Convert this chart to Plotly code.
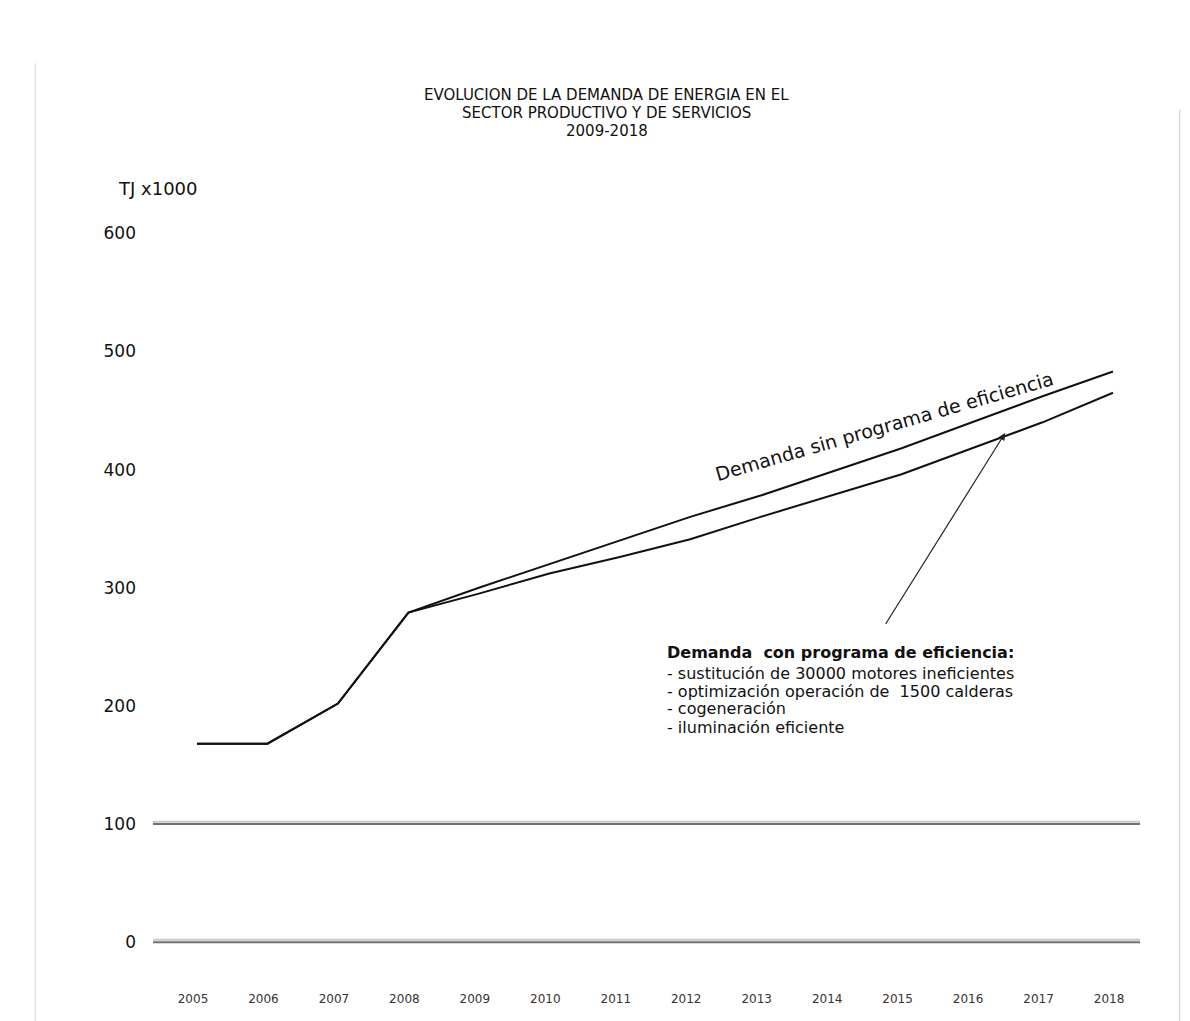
import plotly.graph_objects as go

years = [2005, 2006, 2007, 2008, 2009, 2010, 2011, 2012, 2013, 2014, 2015, 2016, 2017, 2018]
sin_programa = [168, 168, 202, 279, 300, 320, 340, 360, 378, 398, 418, 440, 462, 483]
con_programa = [168, 168, 202, 279, 295, 312, 326, 341, 360, 378, 396, 418, 440, 465]
y_ticks = [0, 100, 200, 300, 400, 500, 600]
grid_levels = [0, 100]
title_lines = ["EVOLUCION DE LA DEMANDA DE ENERGIA EN EL",
               "SECTOR PRODUCTIVO Y DE SERVICIOS",
               "2009-2018"]
block_lines = ["<b>Demanda  con programa de eficiencia:</b>",
               "- sustitución de 30000 motores ineficientes",
               "- optimización operación de  1500 calderas",
               "- cogeneración",
               "- iluminación eficiente"]

FONT = "DejaVu Sans"

fig = go.Figure()
fig.add_trace(go.Scatter(x=years, y=sin_programa, mode="lines",
                         line=dict(color="#111", width=2), showlegend=False))
fig.add_trace(go.Scatter(x=years, y=con_programa, mode="lines",
                         line=dict(color="#111", width=2), showlegend=False))

shapes = []
for g in grid_levels:
    shapes.append(dict(type="line", xref="paper", yref="y", x0=-0.0175, x1=1.0,
                       y0=g + 2, y1=g + 2, line=dict(color="#c8c8c8", width=2), layer="below"))
    shapes.append(dict(type="line", xref="paper", yref="y", x0=-0.0175, x1=1.0,
                       y0=g, y1=g, line=dict(color="#707070", width=2), layer="below"))
# faint scan borders
shapes.append(dict(type="line", xref="paper", yref="paper", x0=-0.139, x1=-0.139,
                   y0=-0.09, y1=1.16, line=dict(color="#d8d8d8", width=1)))
shapes.append(dict(type="line", xref="paper", yref="paper", x0=1.041, x1=1.041,
                   y0=-0.09, y1=1.10, line=dict(color="#d0d0d0", width=1)))

annotations = []
title_y = [1.1185, 1.0951, 1.0716]
for txt, yy in zip(title_lines, title_y):
    annotations.append(dict(text=txt, xref="paper", yref="paper", x=0.4505, y=yy,
                            xanchor="center", yanchor="middle", showarrow=False,
                            font=dict(family=FONT, size=15, color="#111")))
annotations.append(dict(text="TJ x1000", xref="paper", yref="paper", x=0.031, y=0.997,
                        xanchor="right", yanchor="middle", showarrow=False,
                        font=dict(family=FONT, size=18, color="#111")))
annotations.append(dict(text="Demanda sin programa de eficiencia", x=2014.76, y=437,
                        xref="x", yref="y", showarrow=False, textangle=-16,
                        font=dict(family=FONT, size=19, color="#111")))
annotations.append(dict(text="", x=2016.47, y=431, ax=2014.76, ay=268, xref="x", yref="y",
                        axref="x", ayref="y", showarrow=True, arrowhead=2, arrowsize=1.2,
                        arrowwidth=1.2, arrowcolor="#222"))
block_y = [245.4, 227.6, 212.4, 198.0, 181.9]
for txt, yy in zip(block_lines, block_y):
    annotations.append(dict(text=txt, x=2011.64, y=yy, xref="x", yref="y",
                            xanchor="left", yanchor="middle", showarrow=False,
                            font=dict(family=FONT, size=16, color="#111")))

fig.update_layout(
    width=1190, height=1021,
    margin=dict(l=170, r=50, t=186, b=67),
    paper_bgcolor="white", plot_bgcolor="white",
    xaxis=dict(range=[2004.617, 2018.383], tickmode="array", tickvals=years,
               ticktext=[str(y) for y in years], showgrid=False, zeroline=False,
               showline=False, ticks="", ticklabelstandoff=36, ticklabelshift=-4,
               tickfont=dict(family=FONT, size=12, color="#333")),
    yaxis=dict(range=[-10, 640], tickmode="array", tickvals=y_ticks,
               showgrid=False, zeroline=False, showline=False, ticks="",
               ticklabelstandoff=33,
               tickfont=dict(family=FONT, size=17, color="#111")),
    shapes=shapes, annotations=annotations,
)

fig.write_html("out.html")
